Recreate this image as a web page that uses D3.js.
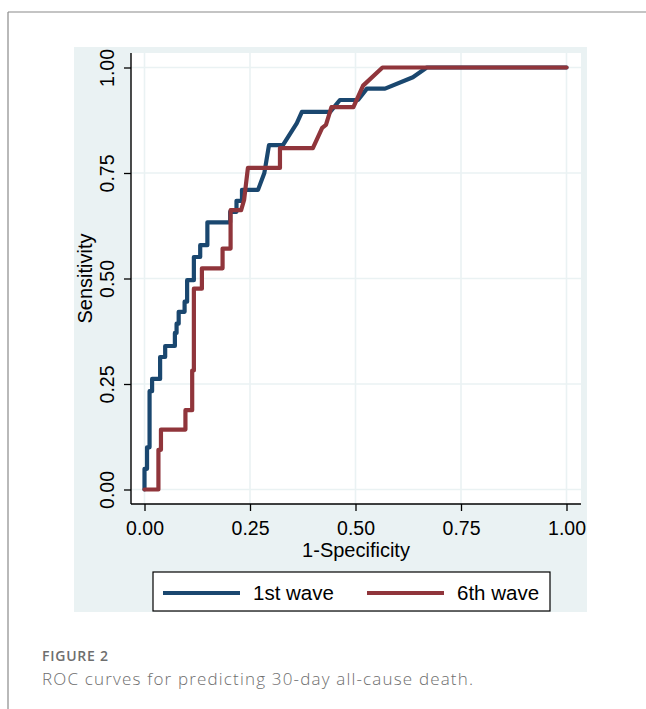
<!DOCTYPE html>
<html>
<head>
<meta charset="utf-8">
<script src="https://cdn.jsdelivr.net/npm/d3@7"></script>
<style>
  body { margin: 0; background: #fff; }
  svg { display: block; }
  .tick text { font-family: "Liberation Sans", Arial, sans-serif; font-size: 19.5px; fill: #000; }
</style>
</head>
<body>
<svg id="chart" width="646" height="709"></svg>
<script>
// 1st wave ROC vertices (1-specificity, sensitivity)
var fpr1  = [0, 0, 0.006, 0.006, 0.012, 0.012, 0.018, 0.018, 0.037, 0.037, 0.049, 0.049, 0.072, 0.072, 0.076, 0.076, 0.081, 0.081, 0.095, 0.095, 0.101, 0.101, 0.117, 0.117, 0.132, 0.132, 0.149, 0.149, 0.203, 0.203, 0.218, 0.218, 0.231, 0.231, 0.269, 0.284, 0.295, 0.328, 0.361, 0.373, 0.440, 0.463, 0.506, 0.527, 0.570, 0.636, 0.669, 1];
var sens1 = [0, 0.049, 0.049, 0.100, 0.100, 0.233, 0.233, 0.262, 0.262, 0.314, 0.314, 0.340, 0.340, 0.371, 0.371, 0.393, 0.393, 0.421, 0.421, 0.445, 0.445, 0.496, 0.496, 0.551, 0.551, 0.579, 0.579, 0.633, 0.633, 0.658, 0.658, 0.684, 0.684, 0.710, 0.710, 0.750, 0.816, 0.816, 0.868, 0.895, 0.895, 0.923, 0.923, 0.950, 0.950, 0.977, 1, 1];

// 6th wave ROC vertices
var fpr2  = [0, 0.033, 0.033, 0.039, 0.039, 0.097, 0.097, 0.113, 0.113, 0.117, 0.117, 0.136, 0.136, 0.185, 0.185, 0.204, 0.204, 0.229, 0.236, 0.245, 0.321, 0.321, 0.399, 0.421, 0.430, 0.443, 0.495, 0.518, 0.564, 1];
var sens2 = [0, 0, 0.094, 0.094, 0.142, 0.142, 0.188, 0.188, 0.282, 0.282, 0.476, 0.476, 0.524, 0.524, 0.571, 0.571, 0.662, 0.662, 0.686, 0.762, 0.762, 0.809, 0.809, 0.857, 0.864, 0.906, 0.906, 0.957, 1, 1];

var xTicks = [0, 0.25, 0.5, 0.75, 1];
var yTicks = [0, 0.25, 0.5, 0.75, 1];
var seriesNames = ["1st wave", "6th wave"];

var navy = "#1a476f";
var maroon = "#90353b";
var bgCol = "#eaf2f3";
var font = "'Liberation Sans', Arial, sans-serif";

var svg = d3.select("#chart");

// outer figure frame
svg.append("line").attr("x1", 8).attr("y1", 12).attr("x2", 646).attr("y2", 12)
   .attr("stroke", "#8a8a8a").attr("stroke-width", 1.2);
svg.append("line").attr("x1", 8).attr("y1", 12).attr("x2", 8).attr("y2", 709)
   .attr("stroke", "#8a8a8a").attr("stroke-width", 1.2);

// graph region
svg.append("rect").attr("x", 74).attr("y", 47).attr("width", 513).attr("height", 565)
   .attr("fill", bgCol);

var plotL = 131, plotR = 581, plotT = 53, plotB = 504;
svg.append("rect").attr("x", plotL).attr("y", plotT)
   .attr("width", plotR - plotL).attr("height", plotB - plotT).attr("fill", "#fff");

var x = d3.scaleLinear().domain([0, 1]).range([144.5, 566.5]);
var y = d3.scaleLinear().domain([0, 1]).range([489.5, 67.5]);

// gridlines
svg.append("g").selectAll("line").data(xTicks).enter().append("line")
   .attr("x1", function(d){ return x(d); }).attr("x2", function(d){ return x(d); })
   .attr("y1", plotT).attr("y2", plotB)
   .attr("stroke", bgCol).attr("stroke-width", 1.6);
svg.append("g").selectAll("line").data(yTicks).enter().append("line")
   .attr("x1", plotL).attr("x2", plotR)
   .attr("y1", function(d){ return y(d); }).attr("y2", function(d){ return y(d); })
   .attr("stroke", bgCol).attr("stroke-width", 1.6);

// curves
var line = d3.line()
             .x(function(d){ return x(d[0]); })
             .y(function(d){ return y(d[1]); });

var curves = [
  { pts: d3.zip(fpr1, sens1), col: navy },
  { pts: d3.zip(fpr2, sens2), col: maroon }
];
svg.append("g").selectAll("path").data(curves).enter().append("path")
   .attr("d", function(d){ return line(d.pts); })
   .attr("fill", "none")
   .attr("stroke", function(d){ return d.col; })
   .attr("stroke-width", 4.2)
   .attr("stroke-linejoin", "round")
   .attr("stroke-linecap", "round");

// y axis
var yAxis = svg.append("g").attr("transform", "translate(" + plotL + ",0)")
               .call(d3.axisLeft(y).tickValues(yTicks).tickFormat(d3.format(".2f")).tickSize(7));
yAxis.select(".domain").remove();
yAxis.selectAll(".tick line").attr("stroke", "#000").attr("stroke-width", 1.3);
yAxis.selectAll(".tick text")
     .attr("transform", "rotate(-90)")
     .attr("x", 0).attr("y", -17).attr("dy", 0)
     .style("text-anchor", "middle");
svg.append("line").attr("x1", plotL).attr("x2", plotL).attr("y1", plotT).attr("y2", plotB)
   .attr("stroke", "#000").attr("stroke-width", 1.4);

// x axis
var xAxis = svg.append("g").attr("transform", "translate(0," + plotB + ")")
               .call(d3.axisBottom(x).tickValues(xTicks).tickFormat(d3.format(".2f")).tickSize(7).tickPadding(10));
xAxis.select(".domain").remove();
xAxis.selectAll(".tick line").attr("stroke", "#000").attr("stroke-width", 1.3);
svg.append("line").attr("x1", plotL).attr("x2", plotR).attr("y1", plotB).attr("y2", plotB)
   .attr("stroke", "#000").attr("stroke-width", 1.4);

// axis titles
svg.append("text").attr("x", (plotL + plotR) / 2).attr("y", 557)
   .attr("text-anchor", "middle").style("font-family", font).style("font-size", "20px")
   .text("1-Specificity");
svg.append("text")
   .attr("transform", "translate(92," + ((plotT + plotB) / 2) + ") rotate(-90)")
   .attr("text-anchor", "middle").style("font-family", font).style("font-size", "20px")
   .text("Sensitivity");

// legend
var legend = svg.append("g");
legend.append("rect").attr("x", 153).attr("y", 572).attr("width", 397).attr("height", 39)
      .attr("fill", "#fff").attr("stroke", "#000").attr("stroke-width", 1.2);
var legX = [163, 367];
legend.selectAll("line.key").data(seriesNames).enter().append("line")
      .attr("class", "key")
      .attr("x1", function(d, i){ return legX[i]; })
      .attr("x2", function(d, i){ return legX[i] + 77; })
      .attr("y1", 593).attr("y2", 593)
      .attr("stroke", function(d, i){ return curves[i].col; })
      .attr("stroke-width", 4.2);
legend.selectAll("text").data(seriesNames).enter().append("text")
      .attr("x", function(d, i){ return legX[i] + 90; })
      .attr("y", 600)
      .style("font-family", font).style("font-size", "20.5px")
      .text(function(d){ return d; });

// caption
svg.append("text").attr("x", 42).attr("y", 661)
   .attr("textLength", 66).attr("lengthAdjust", "spacing")
   .style("font-family", "'Open Sans', sans-serif").style("font-size", "14px")
   .style("font-weight", 600).style("fill", "#6e6e6e")
   .text("FIGURE 2");
svg.append("text").attr("x", 42).attr("y", 685)
   .attr("textLength", 431).attr("lengthAdjust", "spacing")
   .style("font-family", "'Open Sans', sans-serif").style("font-size", "17px")
   .style("font-weight", 300).style("fill", "#6e6e6e")
   .text("ROC curves for predicting 30-day all-cause death.");
</script>
</body>
</html>
